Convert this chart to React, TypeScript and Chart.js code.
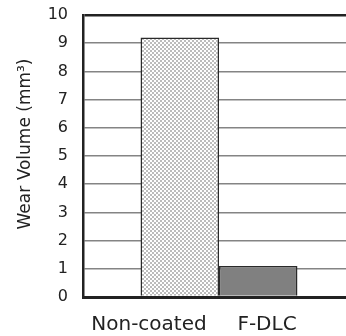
import React, { useEffect, useRef } from "react";
import { Chart, registerables } from "chart.js";

Chart.register(...registerables);

const categories = ["Non-coated", "F-DLC"];
const wearValues = [9.2, 1.1];
const yTicks = [0, 1, 2, 3, 4, 5, 6, 7, 8, 9, 10];
const yTitle = "Wear Volume (mm³)";

function makePattern(): CanvasPattern | string {
  const c = document.createElement("canvas");
  c.width = 4;
  c.height = 4;
  const g = c.getContext("2d");
  if (!g) return "#c8c8c8";
  g.fillStyle = "#ffffff";
  g.fillRect(0, 0, 4, 4);
  g.fillStyle = "#bcbcbc";
  g.fillRect(0, 0, 2, 2);
  g.fillRect(2, 2, 2, 2);
  const p = g.createPattern(c, "repeat");
  return p || "#c8c8c8";
}

const titlePlugin = {
  id: "yTitleText",
  afterDraw(chart: any) {
    const { ctx, chartArea } = chart;
    ctx.save();
    ctx.translate(26, (chartArea.top + chartArea.bottom) / 2 - 12);
    ctx.rotate(-Math.PI / 2);
    ctx.font = "17px 'DejaVu Sans'";
    ctx.fillStyle = "#222";
    ctx.textAlign = "center";
    ctx.textBaseline = "middle";
    ctx.fillText(yTitle, 0, 0);
    ctx.restore();
  },
};

export default function App() {
  const ref = useRef<HTMLCanvasElement>(null);
  useEffect(() => {
    if (!ref.current) return;
    const pattern = makePattern();
    const fills = [pattern, "#808080"];
    const chart = new Chart(ref.current, {
      type: "bar",
      data: {
        labels: [""],
        datasets: categories.map((name, i) => ({
          label: name,
          data: [wearValues[i]],
          backgroundColor: fills[i],
          borderColor: "#2a2a2a",
          borderWidth: 1.5,
          categoryPercentage: 0.577,
          barPercentage: 1,
        })),
      },
      options: {
        responsive: false,
        animation: false,
        events: [],
        layout: { padding: { top: 15, left: 0, right: 0, bottom: 0 } },
        plugins: { legend: { display: false }, tooltip: { enabled: false } },
        scales: {
          x: {
            type: "category",
            display: false,
          },
          xl: {
            type: "linear",
            position: "bottom",
            min: 0,
            max: 1,
            offset: false,
            z: 1,
            afterBuildTicks: (scale: any) => {
              scale.ticks = [0.2426, 0.6765].map((v) => ({ value: v }));
            },
            afterFit: (scale: any) => {
              scale.height = 39;
              scale.paddingLeft = 0;
              scale.paddingRight = 0;
            },
            grid: { display: false, drawTicks: false, offset: false },
            border: { display: true, color: "#222", width: 3 },
            ticks: {
              autoSkip: false,
              maxRotation: 0,
              minRotation: 0,
              padding: 16,
              color: "#222",
              font: { family: "'DejaVu Sans'", size: 20 },
              callback: (_v: any, i: number) => categories[i],
            },
          },
          y: {
            min: 0,
            max: 10,
            afterBuildTicks: (scale: any) => {
              scale.ticks = yTicks.map((v) => ({ value: v }));
            },
            afterFit: (scale: any) => {
              scale.width = 83;
              scale.paddingTop = 0;
              scale.paddingBottom = 0;
            },
            grid: {
              drawTicks: false,
              color: (c: any) =>
                c.tick && (c.tick.value === 10 || c.tick.value === 0) ? "#222" : "#848484",
              lineWidth: (c: any) =>
                c.tick && (c.tick.value === 10 || c.tick.value === 0) ? 2.5 : 1.5,
            },
            border: { display: true, color: "#222", width: 2.5 },
            ticks: {
              padding: 15,
              color: "#222",
              font: { family: "'DejaVu Sans'", size: 16 },
            },
          },
        },
      },
      plugins: [titlePlugin],
    } as any);
    return () => chart.destroy();
  }, []);
  return (
    <div
      style={{
        position: "fixed",
        left: 0,
        top: 0,
        width: 346,
        height: 336,
        overflow: "hidden",
        background: "#fff",
      }}
    >
      <canvas ref={ref} width={355} height={336} style={{ display: "block" }} />
    </div>
  );
}
